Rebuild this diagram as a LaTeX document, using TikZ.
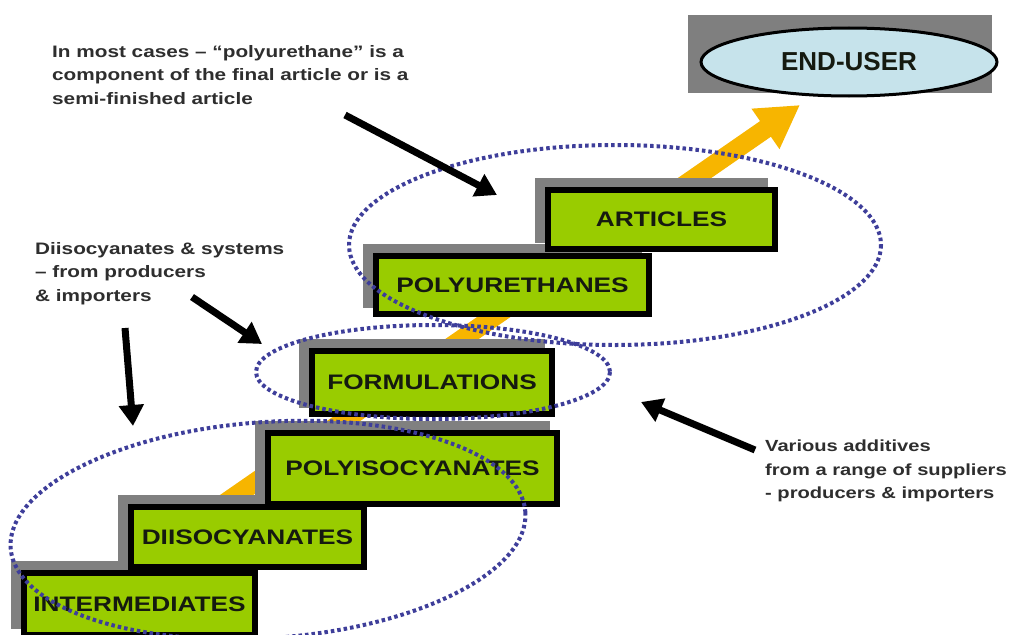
\documentclass[tikz,border=0pt]{standalone}
\usepackage{fontspec}
\newfontfamily\wide[FakeStretch=1.25]{Liberation Sans}
\newfontfamily\plain{Liberation Sans}
\usetikzlibrary{arrows.meta,shapes.geometric,shadows}
\definecolor{stepgreen}{HTML}{99CC00}
\definecolor{shadowgray}{HTML}{808080}
\definecolor{endgray}{HTML}{7F7F7F}
\definecolor{userblue}{HTML}{C6E3EB}
\definecolor{flowyellow}{HTML}{F7B500}
\definecolor{ringblue}{HTML}{3E3E9A}
\definecolor{labelink}{HTML}{151A10}
\definecolor{noteink}{HTML}{2E2E2E}
\newcommand\labelfont{\wide\bfseries\fontsize{21}{25}\selectfont}
\newcommand\notefont{\wide\bfseries\fontsize{16.6}{23.5}\selectfont}
\newcommand\notefontsmall{\wide\bfseries\fontsize{16.1}{23.5}\selectfont}
\tikzset{
  stepbox/.style={draw=black, line width=6pt, fill=stepgreen, text=labelink,
    font=\labelfont, inner sep=0pt,
    general shadow={fill=shadowgray, draw=shadowgray, line width=6pt,
      shadow xshift=-10pt, shadow yshift=9pt}},
  note/.style={text=noteink, font=\notefont, align=left, inner sep=0pt, anchor=north west},
  pointer/.style={draw=black, line width=7pt, -{Triangle[length=21pt,width=24pt]}},
  flow/.style={draw=flowyellow, line width=19pt, -{Triangle[length=42pt,width=46pt]}},
  dotring/.style={draw=ringblue, line width=4pt, dash pattern=on 3.5pt off 3pt},
}
\begin{document}
\begin{tikzpicture}[x=1pt,y=-1pt]
\useasboundingbox (0,0) rectangle (1016,634);
\fill[white] (0,0) rectangle (1016,634);

% flow arrow behind the steps
\coordinate (flowstart) at (215,510);
\coordinate (flowend) at (800,105);
\draw[flow] (flowstart) -- (flowend);

% steps
\node[stepbox, minimum width=231pt, minimum height=62pt] (inter) at (139.5,604) {INTERMEDIATES};
\node[stepbox, minimum width=233pt, minimum height=60pt] (diiso) at (247.5,537) {DIISOCYANATES};
\node[stepbox, minimum width=289pt, minimum height=71pt] (polyiso) at (412.5,468.5) {POLYISOCYANATES};
\node[stepbox, minimum width=240pt, minimum height=63pt] (formul) at (432,382.5) {FORMULATIONS};
\node[stepbox, minimum width=273pt, minimum height=58pt] (polyur) at (512.5,285) {POLYURETHANES};
\node[stepbox, minimum width=227pt, minimum height=59pt] (articles) at (661.5,219.5) {ARTICLES};

% end user
\node[fill=endgray, minimum width=304pt, minimum height=78pt, inner sep=0pt] (eubg) at (840,54) {};
\node[ellipse, draw=black, line width=3pt, fill=userblue, minimum width=296pt, minimum height=68pt,
  inner sep=0pt, text=labelink, font=\plain\bfseries\fontsize{26}{30}\selectfont] (enduser) at (849,62) {END-USER};

% dotted groupings
\draw[dotring, rotate around={4:(268,530)}] (268,530) ellipse [x radius=258, y radius=108];
\draw[dotring] (433,372) ellipse [x radius=177, y radius=47];
\draw[dotring] (615,245) ellipse [x radius=266, y radius=100];

% notes
\node[note] (note1) at (52,45) {In most cases – “polyurethane” is a\\component of the final article or is a\\semi-finished article};
\node[note] (note2) at (35,242) {Diisocyanates \& systems\\– from producers\\\& importers};
\node[note, font=\notefontsmall] (note3) at (765,440) {Various additives\\from a range of suppliers\\- producers \& importers};

% pointers
\coordinate (p1s) at (345,115); \coordinate (p1e) at (497,195);
\coordinate (p2s) at (192,297); \coordinate (p2e) at (262,344);
\coordinate (p3s) at (125,328); \coordinate (p3e) at (133,426);
\coordinate (p4s) at (755,450); \coordinate (p4e) at (641,402);
\draw[pointer] (p1s) -- (p1e);
\draw[pointer] (p2s) -- (p2e);
\draw[pointer] (p3s) -- (p3e);
\draw[pointer] (p4s) -- (p4e);
\end{tikzpicture}
\end{document}
